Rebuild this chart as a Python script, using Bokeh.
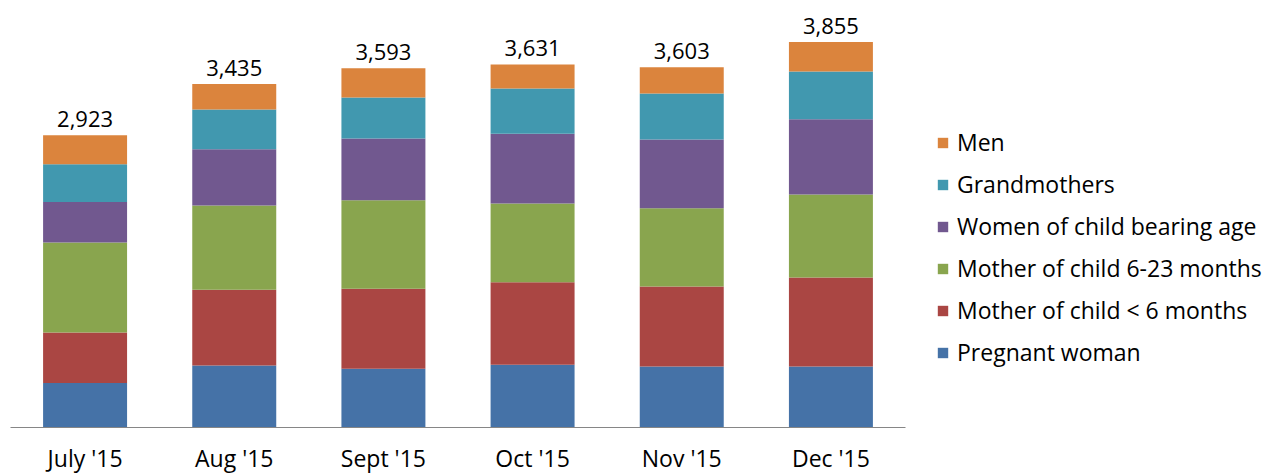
from bokeh.plotting import figure
from bokeh.models import ColumnDataSource, Legend, LegendItem, Range1d, FactorRange
from bokeh.embed import file_html
from bokeh.resources import INLINE
from bokeh.core.properties import value

months = ["July '15", "Aug '15", "Sept '15", "Oct '15", "Nov '15", "Dec '15"]
pregnant = [446, 620, 587, 627, 610, 610]
mother_lt6 = [505, 757, 800, 826, 800, 890]
mother_6_23 = [899, 843, 886, 787, 783, 830]
women_cba = [406, 563, 617, 697, 687, 753]
grandmothers = [376, 397, 410, 453, 460, 477]
men = [291, 255, 293, 241, 263, 295]
totals = [2923, 3435, 3593, 3631, 3603, 3855]
total_labels = ["2,923", "3,435", "3,593", "3,631", "3,603", "3,855"]

series = ["pregnant", "mother_lt6", "mother_6_23", "women_cba", "grandmothers", "men"]
names = ["Pregnant woman", "Mother of child < 6 months", "Mother of child 6-23 months",
         "Women of child bearing age", "Grandmothers", "Men"]
colors = ["#4572A7", "#AA4643", "#89A54E", "#71588F", "#4198AF", "#DB843D"]

src = ColumnDataSource(dict(month=months, pregnant=pregnant, mother_lt6=mother_lt6,
                            mother_6_23=mother_6_23, women_cba=women_cba,
                            grandmothers=grandmothers, men=men,
                            total=totals, label=total_labels))

FONT = "Open Sans"

p = figure(x_range=FactorRange(*months, range_padding=0), y_range=Range1d(0, 4190),
           frame_width=895, frame_height=419,
           min_border_left=10, min_border_top=8, min_border_bottom=46, min_border_right=369,
           output_backend="svg", toolbar_location=None)

rs = p.vbar_stack(series, x="month", width=0.563, color=colors, source=src, line_width=0)

p.text(x="month", y="total", text="label", source=src, text_align="center",
       text_baseline="alphabetic", y_offset=-16, text_font=value(FONT),
       text_font_size="22px", text_color="#000000")

items = [LegendItem(label=names[i], renderers=[rs[i]]) for i in reversed(range(len(rs)))]
legend = Legend(items=items, location=(31, 59), border_line_color=None,
                background_fill_alpha=0, padding=0, margin=0,
                glyph_width=13, glyph_height=13, label_standoff=8,
                label_height=20, spacing=10,
                label_text_font=FONT, label_text_font_size="23px",
                label_text_color="#000000")
p.add_layout(legend, "right")

p.yaxis.visible = False
p.xgrid.visible = False
p.ygrid.visible = False
p.outline_line_color = None
p.xaxis.axis_line_color = "#868686"
p.xaxis.major_tick_line_color = None
p.xaxis.minor_tick_line_color = None
p.xaxis.major_label_text_font = FONT
p.xaxis.major_label_text_font_size = "23px"
p.xaxis.major_label_text_color = "#000000"
p.xaxis.major_label_standoff = 8

open("out.html", "w").write(file_html(p, INLINE))
